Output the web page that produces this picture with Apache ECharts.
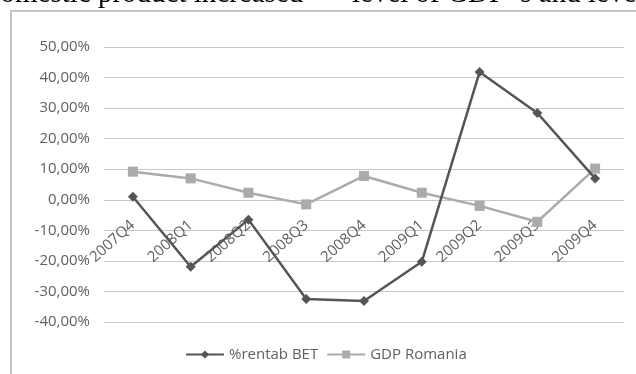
<!DOCTYPE html>
<html>
<head>
<meta charset="utf-8">
<script src="https://cdn.jsdelivr.net/npm/echarts@6/dist/echarts.min.js"></script>
<style>
  html, body { margin: 0; padding: 0; background: #ffffff; }
  #chart { width: 636px; height: 374px; }
</style>
</head>
<body>
<div id="chart"></div>
<script>
// Quarterly returns of the BET index vs. Romanian GDP growth (percent)
const quarters = ['2007Q4', '2008Q1', '2008Q2', '2008Q3', '2008Q4', '2009Q1', '2009Q2', '2009Q3', '2009Q4'];
const rentabBET = [1.0, -21.9, -6.5, -32.5, -33.1, -20.3, 41.8, 28.4, 7.0];
const gdpRomania = [9.2, 7.0, 2.3, -1.5, 7.8, 2.3, -2.0, -7.2, 10.2];
const yMin = -40, yMax = 50, yStep = 10;

const labelColor = '#5f5f5f';
const font = 'Open Sans';

const pct = v => v.toFixed(2).replace('.', ',') + '%';

const chart = echarts.init(document.getElementById('chart'), null, { renderer: 'canvas' });

chart.setOption({
  animation: false,
  backgroundColor: '#ffffff',
  graphic: [
    // surrounding document text, cut by the top edge
    { type: 'text', left: -14, top: -20, style: { text: 'domestic product increased', font: '29px "Liberation Serif"', fill: '#000' } },
    { type: 'text', left: 352, top: -20, style: { text: 'level of GDP \u2019s and level', font: '29px "Liberation Serif"', fill: '#000' } },
    // chart frame
    { type: 'rect', shape: { x: 11, y: 11, width: 700, height: 400 }, style: { fill: 'none', stroke: '#c4c4c4', lineWidth: 2 }, z: 0 }
  ],
  grid: { left: 104, right: 12, top: 47, bottom: 52, containLabel: false },
  legend: {
    left: 180,
    top: 342,
    itemWidth: 38,
    itemHeight: 10,
    itemGap: 8,
    data: ['%rentab BET', 'GDP Romania'],
    textStyle: { color: labelColor, fontFamily: font, fontSize: 15 }
  },
  xAxis: {
    type: 'category',
    data: quarters,
    boundaryGap: true,
    axisLine: { show: false },
    axisTick: { show: false },
    // category labels sit just under the zero line
    axisLabel: { rotate: 42, margin: -99, color: labelColor, fontFamily: font, fontSize: 15, interval: 0 },
    splitLine: { show: false }
  },
  yAxis: {
    type: 'value',
    min: yMin,
    max: yMax,
    interval: yStep,
    axisLine: { show: false },
    axisTick: { show: false },
    axisLabel: { formatter: pct, margin: 14, color: labelColor, fontFamily: font, fontSize: 15 },
    splitLine: { lineStyle: { color: '#c8c8c8', width: 1 } }
  },
  series: [
    {
      name: '%rentab BET',
      type: 'line',
      data: rentabBET,
      z: 4,
      symbol: 'diamond',
      symbolSize: 10,
      lineStyle: { color: '#555555', width: 2.5 },
      itemStyle: { color: '#555555' }
    },
    {
      name: 'GDP Romania',
      type: 'line',
      data: gdpRomania,
      z: 3,
      symbol: 'rect',
      symbolSize: 10,
      lineStyle: { color: '#ababab', width: 2.5 },
      itemStyle: { color: '#ababab' }
    }
  ]
});
</script>
</body>
</html>
